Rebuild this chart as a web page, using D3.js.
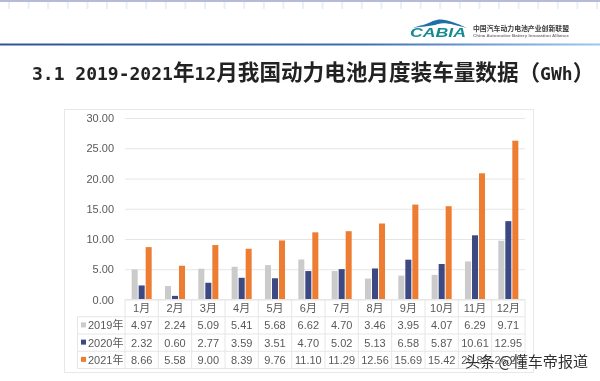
<!DOCTYPE html>
<html>
<head>
<meta charset="utf-8">
<script src="https://cdn.jsdelivr.net/npm/d3@7/dist/d3.min.js"></script>
<style>
  html, body { margin: 0; padding: 0; background: #fff; }
  svg { display: block; }
  text { font-family: "Liberation Sans", "Noto Sans CJK SC", sans-serif; }
  .cjk { font-family: "Noto Sans CJK SC", sans-serif; }
</style>
</head>
<body>
<div id="chart"></div>
<script>
const months = ["1月", "2月", "3月", "4月", "5月", "6月", "7月", "8月", "9月", "10月", "11月", "12月"];
const seriesNames = ["2019年", "2020年", "2021年"];
const values2019 = [4.97, 2.24, 5.09, 5.41, 5.68, 6.62, 4.70, 3.46, 3.95, 4.07, 6.29, 9.71];
const values2020 = [2.32, 0.60, 2.77, 3.59, 3.51, 4.70, 5.02, 5.13, 6.58, 5.87, 10.61, 12.95];
const values2021 = [8.66, 5.58, 9.00, 8.39, 9.76, 11.10, 11.29, 12.56, 15.69, 15.42, 20.86, 26.25];
const yTicks = [0, 5, 10, 15, 20, 25, 30];
const seriesColors = ["#cbcbcb", "#3c4a82", "#ed7d31"];

const allValues = [values2019, values2020, values2021];
const width = 600, height = 381;
const textColor = "#595959", lineColor = "#e6e6e6";

const svg = d3.select("#chart").append("svg")
  .attr("width", width)
  .attr("height", height);

const defs = svg.append("defs");
defs.append("filter").attr("id", "soft")
  .append("feGaussianBlur").attr("stdDeviation", 0.45);

const headGrad = defs.append("linearGradient").attr("id", "rule");
headGrad.append("stop").attr("offset", "0").attr("stop-color", "#2f5597");
headGrad.append("stop").attr("offset", "0.6").attr("stop-color", "#3f6cb5");
headGrad.append("stop").attr("offset", "1").attr("stop-color", "#9cc8ee");

const root = svg.append("g").attr("filter", "url(#soft)");

// page header
root.append("rect").attr("width", width).attr("height", 2).attr("fill", "#b4bad8");
root.append("g").selectAll("rect")
  .data(d3.range(8, width, 19.6))
  .join("rect")
  .attr("x", d => d)
  .attr("y", 2)
  .attr("width", 2)
  .attr("height", 7)
  .attr("fill", "#e4f1fb");
root.append("rect").attr("y", 43.5).attr("width", width).attr("height", 2).attr("fill", "url(#rule)");

// logo
const logo = root.append("g");
logo.append("path")
  .attr("d", "M413 28 C420 25 426 25 433 21 C442 17 452 21 467 28 C454 25 446 22 438 24 C430 27 420 26 413 28Z")
  .attr("fill", "#1d6fa5");
logo.append("text")
  .attr("x", 410).attr("y", 37)
  .attr("font-size", 12.5).attr("font-style", "italic").attr("font-weight", 700)
  .attr("textLength", 56).attr("lengthAdjust", "spacingAndGlyphs")
  .attr("fill", "#168a8f")
  .text("CABIA");
logo.append("text").attr("class", "cjk")
  .attr("x", 473).attr("y", 30.5)
  .attr("font-size", 7).attr("font-weight", 700)
  .attr("textLength", 96).attr("lengthAdjust", "spacingAndGlyphs")
  .attr("fill", "#3a3a3a")
  .text("中国汽车动力电池产业创新联盟");
logo.append("text")
  .attr("x", 473).attr("y", 37)
  .attr("font-size", 4.2).attr("font-weight", 700)
  .attr("textLength", 96).attr("lengthAdjust", "spacingAndGlyphs")
  .attr("fill", "#777")
  .text("China Automotive Battery Innovation Alliance");

// title, half width latin next to full width hanzi
const titleParts = ["3.1 2019-2021", "年", "12", "月我国动力电池月度装车量数据（", "GWh", "）"];
root.append("text")
  .attr("x", 32).attr("y", 80)
  .attr("fill", "#222")
  .attr("font-weight", 700)
  .attr("xml:space", "preserve")
  .selectAll("tspan")
  .data(titleParts)
  .join("tspan")
  .attr("font-family", (d, i) => (i % 2 ? "Noto Sans CJK SC" : "DejaVu Sans Mono"))
  .attr("font-size", (d, i) => (i % 2 ? 21.6 : 18))
  .text(d => d);

// chart frame
root.append("rect")
  .attr("x", 64.5).attr("y", 109.5)
  .attr("width", 469).attr("height", 263)
  .attr("fill", "#fff").attr("stroke", "#e8e8e8");

const x = d3.scaleBand().domain(months).range([125, 525]);
const xInner = d3.scaleBand().domain(seriesNames)
  .range([0, x.bandwidth()]).paddingInner(0.14).paddingOuter(0.95);
const y = d3.scaleLinear().domain([0, 30]).range([299.5, 118]);

// y axis with gridlines
const yAxis = root.append("g")
  .attr("transform", "translate(125,0)")
  .call(d3.axisLeft(y).tickValues(yTicks).tickFormat(d3.format(".2f")).tickSize(-400).tickPadding(11));
yAxis.select(".domain").remove();
yAxis.selectAll("line").attr("stroke", lineColor);
yAxis.selectAll("text")
  .attr("fill", textColor)
  .attr("font-size", 11)
  .attr("font-family", "Liberation Sans");

// bars
root.append("g").selectAll("g")
  .data(seriesNames)
  .join("g")
  .attr("fill", (d, i) => seriesColors[i])
  .selectAll("rect")
  .data((d, i) => months.map((m, j) => ({ month: m, series: d, value: allValues[i][j] })))
  .join("rect")
  .attr("x", d => x(d.month) + xInner(d.series))
  .attr("y", d => y(d.value))
  .attr("width", xInner.bandwidth())
  .attr("height", d => y(0) - y(d.value));

// data table under the axis
const rowY = d3.scaleBand()
  .domain(["month", ...seriesNames])
  .range([299.5, 368.5]);
const labelLeft = 77.5;

const table = root.append("g").attr("stroke", lineColor).attr("fill", "none");
table.selectAll(".v")
  .data(d3.range(13))
  .join("line")
  .attr("x1", i => 125 + i * x.step())
  .attr("x2", i => 125 + i * x.step())
  .attr("y1", 299.5)
  .attr("y2", 368.5);
table.append("line")
  .attr("x1", labelLeft).attr("x2", labelLeft)
  .attr("y1", rowY("2019年")).attr("y2", 368.5);
table.selectAll(".h")
  .data(["month", ...seriesNames, "end"])
  .join("line")
  .attr("x1", d => (d === "month" ? 125 : labelLeft))
  .attr("x2", 525)
  .attr("y1", d => (d === "end" ? 368.5 : rowY(d)))
  .attr("y2", d => (d === "end" ? 368.5 : rowY(d)));

root.append("g").selectAll("text")
  .data(months)
  .join("text")
  .attr("x", d => x(d) + x.bandwidth() / 2)
  .attr("y", rowY("month") + rowY.bandwidth() / 2 + 4)
  .attr("text-anchor", "middle")
  .attr("font-size", 11)
  .attr("fill", textColor)
  .text(d => d);

seriesNames.forEach((name, i) => {
  const cy = rowY(name) + rowY.bandwidth() / 2;
  root.append("rect")
    .attr("x", 81).attr("y", cy - 3)
    .attr("width", 5).attr("height", 5)
    .attr("fill", seriesColors[i]);
  root.append("text")
    .attr("x", 88).attr("y", cy + 4)
    .attr("font-size", 11)
    .attr("fill", textColor)
    .text(name);
  root.append("g").selectAll("text")
    .data(allValues[i])
    .join("text")
    .attr("x", (d, j) => x(months[j]) + x.bandwidth() / 2)
    .attr("y", cy + 4)
    .attr("text-anchor", "middle")
    .attr("font-size", 11)
    .attr("fill", textColor)
    .text(d => d.toFixed(2));
});

// watermark
root.append("text").attr("class", "cjk")
  .attr("x", 465).attr("y", 367)
  .attr("font-size", 15)
  .attr("textLength", 123).attr("lengthAdjust", "spacingAndGlyphs")
  .attr("fill", "#2f2f2f")
  .attr("stroke", "#fff").attr("stroke-width", 0.4).attr("paint-order", "stroke")
  .text("头条 @懂车帝报道");
</script>
</body>
</html>
